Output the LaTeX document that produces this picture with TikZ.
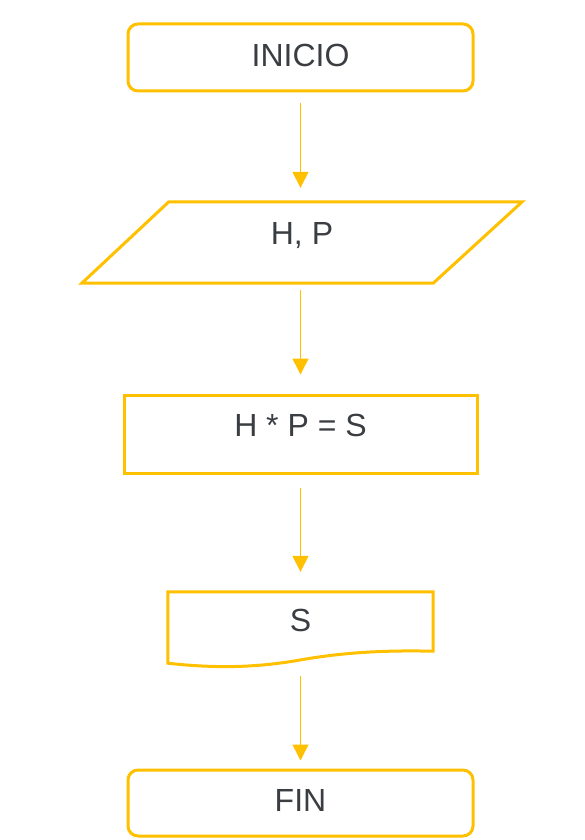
\documentclass[tikz,border=0pt]{standalone}
\usepackage{fontspec}
\setmainfont{Liberation Sans}
\usepackage{tikz}
\usetikzlibrary{arrows.meta}
\definecolor{amarillo}{HTML}{FFC000}
\definecolor{texto}{HTML}{3A3D41}
\tikzstyle{borde}=[draw=amarillo,line width=3pt,line join=miter]
\tikzstyle{caja}=[inner sep=0pt,text=texto,font=\fontsize{32}{38}\selectfont]
\tikzstyle{terminal}=[caja,borde,rounded corners=10pt,minimum width=345pt]
\tikzstyle{flecha}=[draw=amarillo,line width=1.5pt,-{Triangle[width=16pt,length=16pt]}]

\begin{document}
\begin{tikzpicture}[x=1pt,y=-1pt]
\useasboundingbox (0,0) rectangle (584,840);
\node[terminal,minimum height=67pt,text depth=4pt] (inicio) at (300.5,57.5) {INICIO};
\node[caja,minimum width=440pt,minimum height=81pt,text depth=18pt] (hp) at (302,242.5) {H, P};
\node[caja,borde,minimum width=353pt,minimum height=78pt,text depth=18pt] (calculo) at (300.5,434) {H * P = S};
\node[caja,minimum width=265pt,minimum height=71pt,text depth=14pt] (s) at (300.5,627.5) {S};
\node[terminal,minimum height=66pt,text depth=5pt] (fin) at (300.5,803) {FIN};
% entrada
\draw[borde] (hp.south west) -- ([xshift=-89pt]hp.south east) -- (hp.north east) -- ([xshift=87pt]hp.north west) -- cycle;
% documento
\draw[borde] (s.south west) -- (s.north west) -- (s.north east) -- ([yshift=12pt]s.south east)
  .. controls (380,650) and (340,653) .. (300,660)
  .. controls (260,667) and (220,669) .. (s.south west) -- cycle;
\draw[flecha] ([yshift=-11pt]inicio.south) -- ([yshift=14pt]inicio.south |- hp.north);
\draw[flecha] ([yshift=-7pt]inicio.south |- hp.south) -- ([yshift=19pt]calculo.north);
\draw[flecha] ([yshift=-13pt]calculo.south) -- ([yshift=20pt]s.north);
\draw[flecha] ([yshift=-13pt]s.south) -- ([yshift=8pt]fin.north);
\end{tikzpicture}
\end{document}
